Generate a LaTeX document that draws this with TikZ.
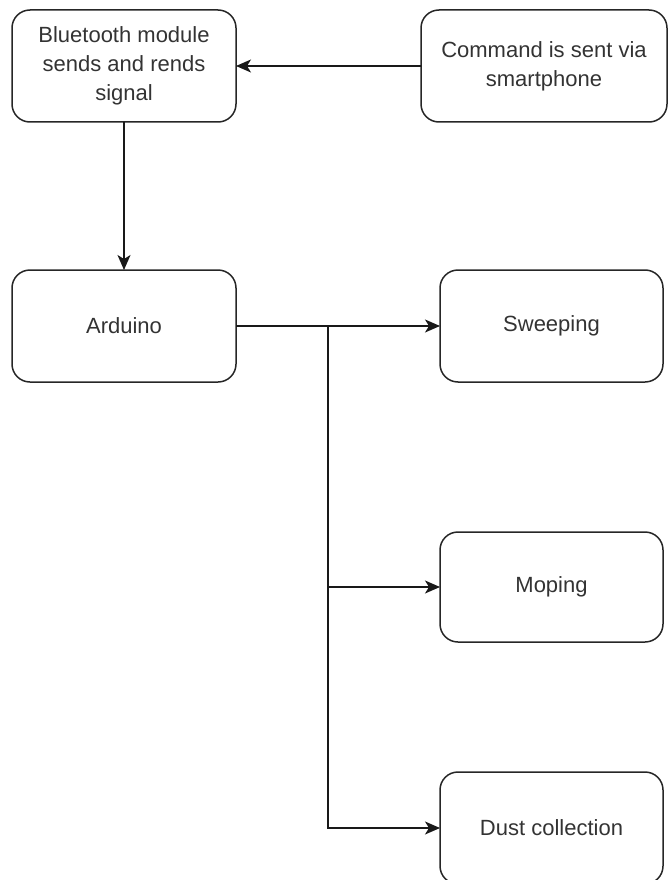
\documentclass[tikz,border=0pt]{standalone}
\usepackage{fontspec}
\setmainfont{Liberation Sans}
\usetikzlibrary{arrows.meta,positioning}

\begin{document}
\begin{tikzpicture}[
  x=1pt,y=1pt,
  node distance=148pt and 185pt,
  box/.style={draw=black!85,line width=1.5pt,rounded corners=18pt,align=center,text=black!80,font=\fontsize{22}{29}\selectfont,minimum width=224pt,minimum height=112pt,inner sep=3pt,outer sep=0pt},
  arr/.style={draw=black!90,line width=1.5pt,-{Stealth[length=15pt,width=13pt,inset=4pt]}}
]
\useasboundingbox (0,0) rectangle (669,-880);
\node[box] (bt) at (124,-66) {Bluetooth module\\sends and rends\\signal};
\node[box,right=of bt,minimum width=246pt] (cmd) {Command is sent via\\smartphone};
\node[box,below=of bt] (ard) {Arduino};
\node[box,right=204pt of ard,minimum width=223pt] (sweep) {Sweeping};
\node[box,below=150pt of sweep,minimum width=223pt,minimum height=110pt] (mop) {Moping};
\node[box,below=130pt of mop,minimum width=223pt] (dust) {Dust collection};
\coordinate (j) at ([xshift=92pt]ard.east);

\draw[arr] (cmd) -- (bt);
\draw[arr] (bt) -- (ard);
\draw[arr] (ard) -- (sweep);
\draw[arr] (j) |- (mop);
\draw[arr] (j) |- (dust);
\end{tikzpicture}
\end{document}
